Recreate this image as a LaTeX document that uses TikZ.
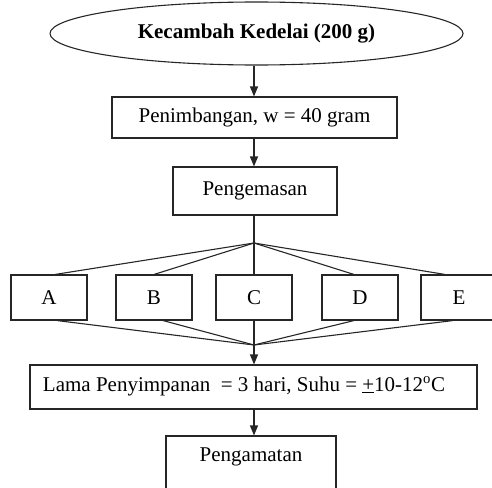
\documentclass[tikz,border=0pt]{standalone}
\usepackage{fontspec}
\setmainfont{Liberation Serif}
\usetikzlibrary{arrows.meta,shapes.geometric}
\begin{document}
\begin{tikzpicture}[x=1pt,y=-1pt,
  every node/.style={font=\fontsize{21}{25}\selectfont},
  boxnode/.style={draw=black!85, line width=1.1pt, inner sep=0pt, anchor=center},
  ln/.style={draw=black!85, line width=1.1pt},
  arr/.style={ln, -{Triangle[length=10pt,width=8pt]}}]
\useasboundingbox (0,0) rectangle (492,487);
\node[ellipse, boxnode, minimum width=413pt, minimum height=63pt] (kec) at (256.5,33.5) {\textbf{Kecambah Kedelai (200 g)}};
\node[boxnode, minimum width=285pt, minimum height=41pt] (pen) at (254.5,117.5) {Penimbangan, w = 40 gram};
\node[boxnode, minimum width=164pt, minimum height=48pt] (peng) at (255,191) {Pengemasan};
\node[boxnode, minimum width=76pt, minimum height=45pt] (A) at (49,297.5) {A};
\node[boxnode, minimum width=76pt, minimum height=45pt] (B) at (154,297.5) {B};
\node[boxnode, minimum width=76pt, minimum height=45pt] (C) at (254,297.5) {C};
\node[boxnode, minimum width=76pt, minimum height=45pt] (D) at (360,297.5) {D};
\node[boxnode, minimum width=76pt, minimum height=45pt] (E) at (459,297.5) {E};
\node[boxnode, minimum width=447pt, minimum height=44pt] (lama) at (253.5,387) {};
\node[anchor=center] (lamat) at (244,386) {Lama Penyimpanan\ \ = 3 hari, Suhu = \underline{+}10-12\textsuperscript{o}C};
\node[boxnode, minimum width=170pt, minimum height=56pt] (obs) at (251,464) {};
\node (obst) at (251,457) {Pengamatan};
\coordinate (fan) at (254,243);
\coordinate (conv) at (254,345);
\draw[arr] (C.north |- kec.south) -- (C.north |- pen.north);
\draw[arr] (C.north |- pen.south) -- (C.north |- peng.north);
\draw[ln] (C.north |- peng.south) -- (C.north);
\draw[ln] (fan) -- ([xshift=6pt]A.north);
\draw[ln] (fan) -- (B.north);
\draw[ln] (fan) -- ([xshift=-6pt]D.north);
\draw[ln] (fan) -- ([xshift=-14pt]E.north);
\draw[ln] ([xshift=8pt]A.south) -- (conv);
\draw[ln] ([xshift=9pt]B.south) -- (conv);
\draw[ln] ([xshift=-6pt]D.south) -- (conv);
\draw[ln] ([xshift=-6pt]E.south) -- (conv);
\draw[arr] (C.south) -- (C.south |- lama.north);
\draw[arr] (C.south |- lama.south) -- (C.south |- obs.north);
\end{tikzpicture}
\end{document}
